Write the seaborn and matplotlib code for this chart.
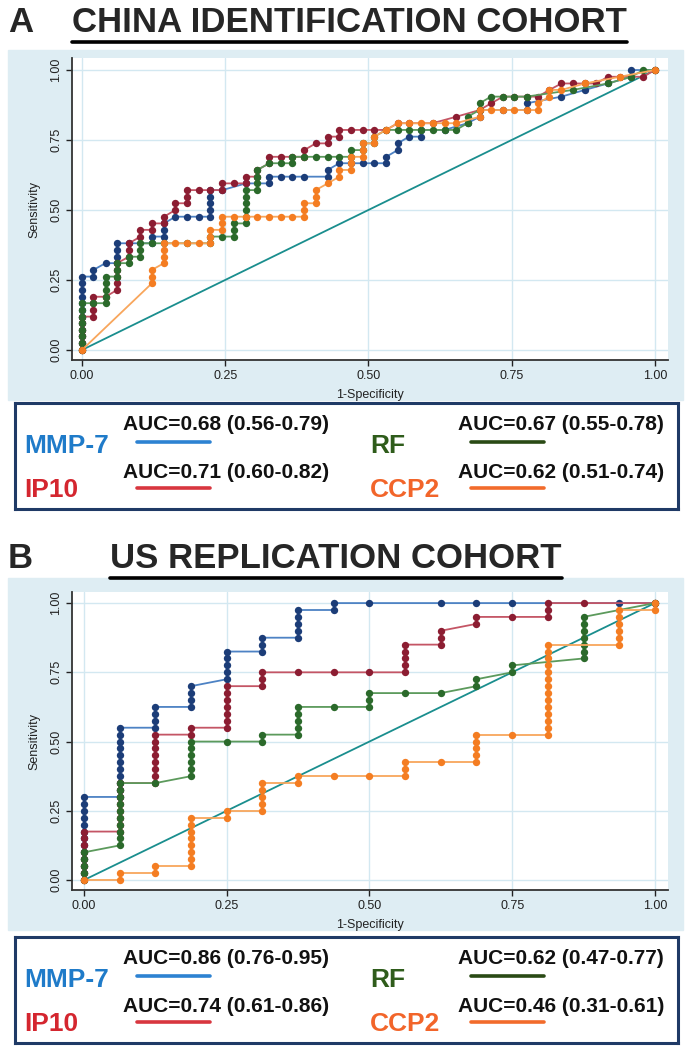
import pandas as pd
import matplotlib.pyplot as plt
import seaborn as sns
from matplotlib.patches import Rectangle
from matplotlib.lines import Line2D

# --- DATA: ROC points, stored as (1-specificity, [sensitivity values at that column]) ---
markers_names = ["MMP-7", "IP10", "RF", "CCP2"]

roc_a_mmp7 = [
    (0.0, [0, .024, .048, .071, .095, .119, .143, .167, .19, .214, .238, .262]),
    (0.02, [.262, .286]), (0.041, [.31]), (0.061, [.31, .333, .357, .381]),
    (0.082, [.381]), (0.122, [.381, .405]), (0.143, [.405, .429, .452]),
    (0.163, [.476]), (0.184, [.476]), (0.204, [.476]),
    (0.224, [.476, .5, .524, .548, .571]), (0.245, [.571]), (0.286, [.595]),
    (0.327, [.595, .619]), (0.347, [.619]), (0.367, [.619]), (0.388, [.619]),
    (0.429, [.619, .643]), (0.449, [.667]), (0.469, [.667]), (0.49, [.667]),
    (0.51, [.667]), (0.531, [.667, .69]), (0.551, [.714, .738]), (0.571, [.762]),
    (0.592, [.762, .786]), (0.633, [.786]), (0.673, [.81]), (0.694, [.833, .857]),
    (0.735, [.857]), (0.776, [.857, .881]), (0.837, [.905]), (0.878, [.929]),
    (0.918, [.952]), (0.959, [.976, 1.0]), (1.0, [1.0]),
]
roc_a_ip10 = [
    (0.0, [0, .024, .048, .071, .095, .119]), (0.02, [.119, .143, .167, .19]),
    (0.041, [.19]), (0.061, [.214, .238, .262, .286, .31]),
    (0.082, [.333, .357, .381]), (0.102, [.405, .429]), (0.122, [.429, .452]),
    (0.143, [.452, .476]), (0.163, [.5, .524]), (0.184, [.524, .548, .571]),
    (0.204, [.571]), (0.224, [.571]), (0.245, [.571, .595]), (0.265, [.595]),
    (0.286, [.595, .619]), (0.306, [.619, .643]), (0.327, [.667, .69]),
    (0.347, [.69]), (0.367, [.69]), (0.388, [.69, .714]), (0.408, [.738]),
    (0.429, [.738, .762]), (0.449, [.762, .786]), (0.469, [.786]), (0.49, [.786]),
    (0.51, [.786]), (0.531, [.786]), (0.551, [.81]), (0.571, [.81]), (0.612, [.81]),
    (0.653, [.833]), (0.694, [.857]), (0.714, [.881]), (0.735, [.905]),
    (0.755, [.905]), (0.776, [.905]), (0.796, [.905]), (0.816, [.929]),
    (0.837, [.952]), (0.857, [.952]), (0.878, [.952]), (0.898, [.952]),
    (0.918, [.976]), (0.939, [.976]), (0.98, [.976]), (1.0, [1.0]),
]
roc_a_rf = [
    (0.0, [0, .024, .048, .071, .095, .119, .143, .167]), (0.02, [.167]),
    (0.041, [.167, .19, .214, .238, .262]), (0.061, [.262, .286, .31]),
    (0.082, [.31, .333]), (0.102, [.333, .357, .381]), (0.122, [.381]),
    (0.143, [.381]), (0.184, [.381]), (0.224, [.381, .405]), (0.245, [.405]),
    (0.265, [.405, .429, .452]), (0.286, [.452, .476, .5, .524, .548, .571]),
    (0.306, [.571, .595, .619, .643]), (0.327, [.667]), (0.347, [.667]),
    (0.367, [.667, .69]), (0.388, [.69]), (0.408, [.69]), (0.429, [.69]),
    (0.449, [.69]), (0.469, [.69, .714]), (0.49, [.714, .738]), (0.51, [.738, .762]),
    (0.531, [.786]), (0.551, [.786]), (0.571, [.786]), (0.592, [.786]),
    (0.612, [.786]), (0.633, [.786]), (0.653, [.786]), (0.673, [.81, .833]),
    (0.694, [.857, .881]), (0.714, [.905]), (0.735, [.905]), (0.755, [.905]),
    (0.776, [.905]), (0.857, [.929]), (0.918, [.952]), (0.959, [.976]),
    (0.98, [1.0]), (1.0, [1.0]),
]
roc_a_ccp2 = [
    (0.0, [0]), (0.122, [.238, .262, .286]), (0.143, [.31, .333, .357, .381]),
    (0.163, [.381]), (0.184, [.381]), (0.204, [.381]), (0.224, [.381, .405, .429]),
    (0.245, [.429, .452, .476]), (0.265, [.476]), (0.286, [.476]), (0.306, [.476]),
    (0.327, [.476]), (0.347, [.476]), (0.367, [.476]), (0.388, [.476, .5, .524]),
    (0.408, [.524, .548, .571]), (0.429, [.595]), (0.449, [.619, .643]),
    (0.469, [.643, .667, .69]), (0.49, [.69, .714, .738]), (0.51, [.738, .762]),
    (0.531, [.786]), (0.551, [.81]), (0.571, [.81]), (0.592, [.81]), (0.612, [.81]),
    (0.633, [.81]), (0.653, [.81]), (0.694, [.833, .857]), (0.714, [.857]),
    (0.735, [.857]), (0.755, [.857]), (0.776, [.857]), (0.796, [.857, .881]),
    (0.816, [.905, .929]), (0.837, [.929]), (0.878, [.952]), (0.939, [.976]),
    (1.0, [1.0]),
]

roc_b_mmp7 = [
    (0.0, [0, .025, .05, .075, .1, .125, .15, .175, .2, .225, .25, .275, .3]),
    (0.0625, [.3, .325, .35, .375, .4, .425, .45, .475, .5, .525, .55]),
    (0.125, [.55, .575, .6, .625]), (0.1875, [.625, .65, .675, .7]),
    (0.25, [.725, .75, .775, .8, .825]), (0.3125, [.825, .85, .875]),
    (0.375, [.875, .9, .925, .95, .975]), (0.4375, [.975, 1.0]),
    (0.5, [1.0]), (0.625, [1.0]), (0.6875, [1.0]), (0.75, [1.0]),
    (0.9375, [1.0]), (1.0, [1.0]),
]
roc_b_ip10 = [
    (0.0, [0, .025, .05, .075, .1, .125, .15, .175]),
    (0.0625, [.175, .2, .225, .25, .275, .3, .325, .35]),
    (0.125, [.35, .375, .4, .425, .45, .475, .5, .525]), (0.1875, [.525, .55]),
    (0.25, [.55, .575, .6, .625, .65, .675, .7]), (0.3125, [.7, .725, .75]),
    (0.375, [.75]), (0.4375, [.75]), (0.5, [.75]),
    (0.5625, [.75, .775, .8, .825, .85]), (0.625, [.85, .875, .9]),
    (0.6875, [.925, .95]), (0.75, [.95]), (0.8125, [.95, .975, 1.0]),
    (0.875, [1.0]), (1.0, [1.0]),
]
roc_b_rf = [
    (0.0, [0, .025, .05, .075, .1]),
    (0.0625, [.125, .15, .175, .2, .225, .25, .275, .3, .325, .35]),
    (0.125, [.35]), (0.1875, [.375, .4, .425, .45, .475, .5]), (0.25, [.5]),
    (0.3125, [.5, .525]), (0.375, [.525, .55, .575, .6, .625]), (0.4375, [.625]),
    (0.5, [.625, .65, .675]), (0.5625, [.675]), (0.625, [.675]),
    (0.6875, [.7, .725]), (0.75, [.75, .775]),
    (0.875, [.8, .825, .85, .875, .9, .925, .95]), (1.0, [1.0]),
]
roc_b_ccp2 = [
    (0.0, [0]), (0.0625, [0, .025]), (0.125, [.025, .05]),
    (0.1875, [.05, .075, .1, .125, .15, .175, .2, .225]), (0.25, [.225, .25]),
    (0.3125, [.25, .275, .3, .325, .35]), (0.375, [.35, .375]), (0.4375, [.375]),
    (0.5, [.375]), (0.5625, [.375, .4, .425]), (0.625, [.425]),
    (0.6875, [.425, .45, .475, .5, .525]), (0.75, [.525]),
    (0.8125, [.525, .55, .575, .6, .625, .65, .675, .7, .725, .75, .775, .8, .825, .85]),
    (0.9375, [.85, .875, .9, .925, .95, .975]), (1.0, [.975, 1.0]),
]

ref_x = [0, 1]
ref_y = [0, 1]

auc_a = ["AUC=0.68 (0.56-0.79)", "AUC=0.71 (0.60-0.82)", "AUC=0.67 (0.55-0.78)", "AUC=0.62 (0.51-0.74)"]
auc_b = ["AUC=0.86 (0.76-0.95)", "AUC=0.74 (0.61-0.86)", "AUC=0.62 (0.47-0.77)", "AUC=0.46 (0.31-0.61)"]
tick_vals = [0, 0.25, 0.5, 0.75, 1.0]
tick_labels = ["0.00", "0.25", "0.50", "0.75", "1.00"]

# --- COLORI ---
dot_colors = ["#1c3d78", "#8c1d32", "#2b6a2b", "#f47d22"]
line_colors = ["#4d82c4", "#c45565", "#5c9a5c", "#f8a65c"]
leg_text_colors = ["#1f7bc9", "#d4262f", "#2f5c1b", "#f2652a"]
leg_line_colors = ["#2d82d2", "#d8363f", "#2a4a15", "#f26b2b"]
bg = "#deedf3"
navy = "#1f3a66"

W, H = 693, 1050


def fx(px):
    return px / W


def fy(py):
    return 1 - py / H


def flatten(cols):
    fpr, tpr = [], []
    for x, ys in cols:
        for y in ys:
            fpr.append(x)
            tpr.append(y)
    return pd.DataFrame({"fpr": fpr, "tpr": tpr})


sns.set_theme(style="white")
plt.rcParams['font.family'] = ['Liberation Sans', 'DejaVu Sans']
fig = plt.figure(figsize=(6.93, 10.5), dpi=100)

panels = [
    dict(curves=[roc_a_mmp7, roc_a_ip10, roc_a_rf, roc_a_ccp2], auc=auc_a,
         title="CHINA IDENTIFICATION COHORT", letter="A", ty=22, tx=72,
         bgbox=(50, 400), ax_box=(72, 58, 668, 360), lim=(-0.0175, 1.023, -0.036, 1.043),
         leg_top=403),
    dict(curves=[roc_b_mmp7, roc_b_ip10, roc_b_rf, roc_b_ccp2], auc=auc_b,
         title="US REPLICATION COHORT", letter="B", ty=558, tx=110,
         bgbox=(578, 930), ax_box=(72, 592, 668, 890), lim=(-0.021, 1.023, -0.036, 1.04),
         leg_top=937),
]

fig.canvas.draw()
renderer = fig.canvas.get_renderer()

for p in panels:
    # sfondo azzurro
    top, bot = p["bgbox"]
    fig.patches.append(Rectangle((fx(8), fy(bot)), fx(683) - fx(8), fy(top) - fy(bot),
                                 transform=fig.transFigure, color=bg, zorder=-10))

    # titolo sottolineato
    fig.text(fx(8), fy(p["ty"]), p["letter"], fontsize=25, fontweight="bold", va="center", ha="left")
    t = fig.text(fx(p["tx"]), fy(p["ty"]), p["title"], fontsize=25, fontweight="bold", va="center", ha="left")
    bb = t.get_window_extent(renderer=renderer).transformed(fig.transFigure.inverted())
    fig.lines.append(Line2D([bb.x0, bb.x1], [bb.y0 - 0.003, bb.y0 - 0.003], transform=fig.transFigure,
                            color="black", lw=2.6))

    # grafico ROC
    x0, y0, x1, y1 = p["ax_box"]
    ax = fig.add_axes([fx(x0), fy(y1), fx(x1) - fx(x0), fy(y0) - fy(y1)])
    ax.set_facecolor("white")
    sns.lineplot(x=ref_x, y=ref_y, ax=ax, color="#1a8e8e", lw=1.3, zorder=2)
    for i, cols in enumerate(p["curves"]):
        df = flatten(cols)
        sns.lineplot(data=df, x="fpr", y="tpr", ax=ax, sort=False, estimator=None,
                     color=line_colors[i], lw=1.3, zorder=3 + i)
        sns.scatterplot(data=df, x="fpr", y="tpr", ax=ax, color=dot_colors[i], s=28,
                        linewidth=0, zorder=3 + i)

    ax.set_xlim(p["lim"][0], p["lim"][1])
    ax.set_ylim(p["lim"][2], p["lim"][3])
    ax.set_xticks(tick_vals)
    ax.set_xticklabels(tick_labels)
    ax.set_yticks(tick_vals)
    ax.set_yticklabels(tick_labels, rotation=90, va="center")
    ax.tick_params(direction="out", length=4, width=1, labelsize=9, colors="#222222", pad=3,
                   left=True, bottom=True)
    ax.grid(True, color="#d3e8f1", lw=1)
    ax.set_axisbelow(True)
    for s in ["top", "right"]:
        ax.spines[s].set_visible(False)
    for s in ["left", "bottom"]:
        ax.spines[s].set_color("#333333")
        ax.spines[s].set_linewidth(1.3)
    ax.set_xlabel("1-Specificity", fontsize=9, labelpad=5, color="#222222")
    ax.set_ylabel("Sensitivity", fontsize=9, labelpad=7, color="#222222")

    # legenda
    lt = p["leg_top"]
    lax = fig.add_axes([fx(15), fy(lt + 106), fx(678) - fx(15), fy(lt) - fy(lt + 106)])
    lax.set_xticks([])
    lax.set_yticks([])
    lax.set_facecolor("white")
    for s in lax.spines.values():
        s.set_color(navy)
        s.set_linewidth(2.2)
        s.set_visible(True)

    rows = [(0, 24, 123, 137, 210, 0), (1, 24, 123, 137, 210, 1),
            (2, 370, 458, 471, 544, 0), (3, 370, 458, 471, 544, 1)]
    for i, xn, xa, xl0, xl1, r in rows:
        yname = lt + 43 + r * 44
        yauc = lt + 22 + r * 48
        yline = lt + 39 + r * 46
        fig.text(fx(xn), fy(yname), markers_names[i], fontsize=19, fontweight="bold",
                 color=leg_text_colors[i], va="center", ha="left")
        fig.text(fx(xa), fy(yauc), p["auc"][i], fontsize=15, fontweight="bold", color="#111111",
                 va="center", ha="left")
        fig.lines.append(Line2D([fx(xl0), fx(xl1)], [fy(yline), fy(yline)], transform=fig.transFigure,
                                color=leg_line_colors[i], lw=2.6))

fig.savefig("out.png", dpi=100)
